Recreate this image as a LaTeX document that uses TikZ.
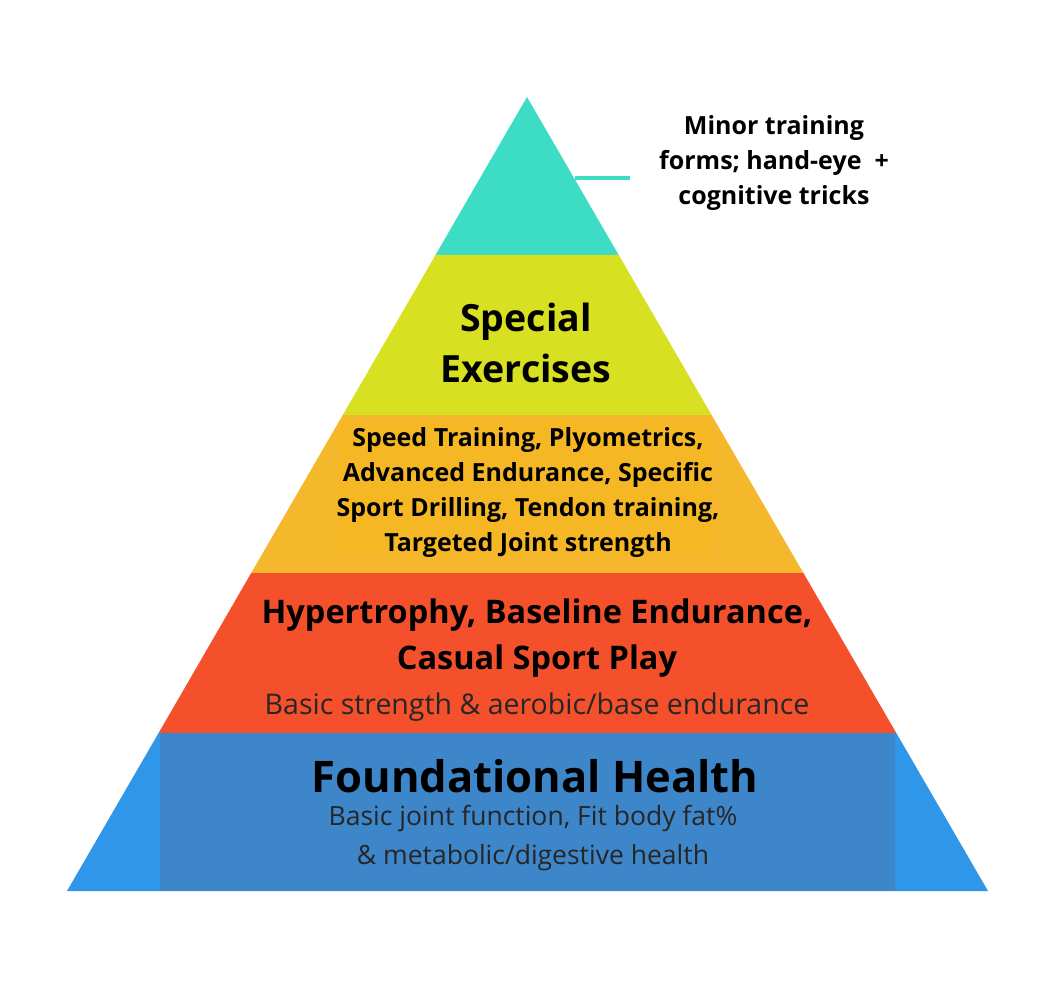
\documentclass[tikz,border=0pt]{standalone}
\usepackage{fontspec}
\setmainfont{Open Sans}
\begin{document}
\begin{tikzpicture}[x=1pt,y=-1pt,
  lbl/.style={align=center,font=\bfseries,text=black,inner sep=0pt},
  sub/.style={align=center,text=black!85,inner sep=0pt}]
\definecolor{cteal}{HTML}{3DDCC4}
\definecolor{cyel}{HTML}{D7E021}
\definecolor{corg}{HTML}{F5B82C}
\definecolor{cred}{HTML}{F4502C}
\definecolor{cblue}{HTML}{2F96EA}
\definecolor{cblueIn}{HTML}{3E86CA}
\useasboundingbox (0,0) rectangle (1063,984);
\fill[white] (0,0) rectangle (1063,984);
\fill[cteal] (527,97) -- (618.7,255) -- (435.5,255) -- cycle;
\fill[cyel] (435.5,255) -- (618.7,255) -- (711.6,415) -- (342.8,415) -- cycle;
\fill[corg] (342.8,415) -- (711.6,415) -- (803.4,573) -- (251.2,573) -- cycle;
\fill[cred] (251.2,573) -- (803.4,573) -- (896.3,733) -- (158.6,733) -- cycle;
\fill[cblue] (158.6,733) -- (896.3,733) -- (988,891) -- (67,891) -- cycle;
\fill[cblueIn] (160,733) rectangle (895,891);
\fill[orange!60!yellow,opacity=0.15] (338,420) rectangle (712,555);
\coordinate (l1) at (575,178);
\coordinate (l2) at (630,178);
\draw[cteal,line width=4pt] (l1) -- (l2);
\node[lbl,font=\fontsize{25}{35}\selectfont\bfseries,anchor=west] (top) at (659,163) {Minor training\\forms; hand-eye\ \ +\\cognitive tricks};
\node[lbl,font=\fontsize{37.5}{51}\selectfont\bfseries] (spec) at (526,343) {Special\\Exercises};
\node[lbl,font=\fontsize{25}{35}\selectfont\bfseries] (speed) at (528,493) {Speed Training, Plyometrics,\\Advanced Endurance, Specific\\Sport Drilling, Tendon training,\\Targeted Joint strength};
\node[lbl,font=\fontsize{32.5}{46}\selectfont\bfseries] (hyp) at (537,638) {Hypertrophy, Baseline Endurance,\\Casual Sport Play};
\node[sub,font=\fontsize{28.5}{36}\selectfont] (hypsub) at (537,707) {Basic strength \& aerobic/base endurance};
\node[lbl,font=\fontsize{43.5}{52}\selectfont\bfseries] (found) at (535,776) {Foundational Health};
\node[sub,font=\fontsize{26.5}{39}\selectfont] (foundsub) at (533,838) {Basic joint function, Fit body fat\%\\\& metabolic/digestive health};
\end{tikzpicture}
\end{document}
